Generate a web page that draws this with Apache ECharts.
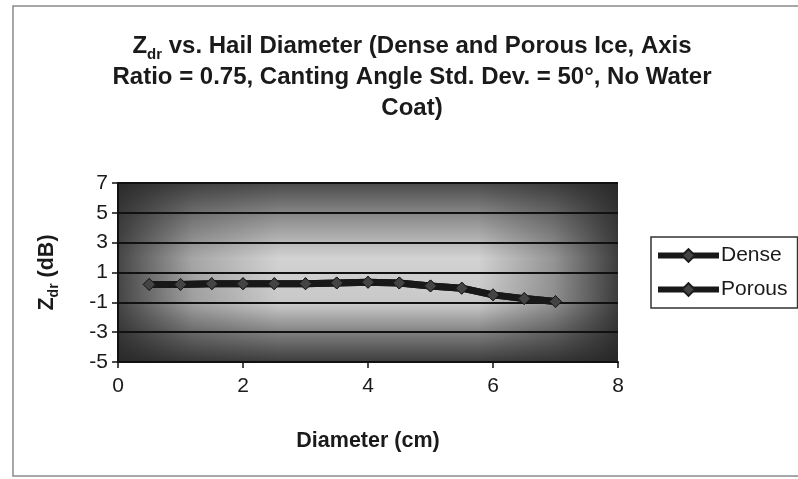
<!DOCTYPE html>
<html>
<head>
<meta charset="utf-8">
<script src="https://cdn.jsdelivr.net/npm/echarts@6/dist/echarts.min.js"></script>
<style>
  html, body { margin: 0; padding: 0; background: #fff; }
  #chart { width: 798px; height: 479px; }
</style>
</head>
<body>
<div id="chart"></div>
<script>
// Hail diameter (cm) and differential reflectivity Zdr (dB)
const diameters = [0.5, 1.0, 1.5, 2.0, 2.5, 3.0, 3.5, 4.0, 4.5, 5.0, 5.5, 6.0, 6.5, 7.0];
const denseZdr  = [0.2, 0.2, 0.25, 0.25, 0.25, 0.25, 0.3, 0.35, 0.3, 0.1, -0.05, -0.5, -0.75, -0.95];
const porousZdr = [0.2, 0.2, 0.25, 0.25, 0.25, 0.25, 0.3, 0.35, 0.3, 0.1, -0.05, -0.5, -0.75, -0.95];
const seriesNames = ['Dense', 'Porous'];
const xTicks = [0, 2, 4, 6, 8];
const yTicks = [-5, -3, -1, 1, 3, 5, 7];

const FONT = '"Liberation Sans", Arial, sans-serif';
const INK = '#1a1a1a';
const chart = echarts.init(document.getElementById('chart'));

const pair = (xs, ys) => xs.map((x, i) => [x, ys[i]]);

const lineSeries = (name, values) => ({
  name,
  type: 'line',
  data: pair(diameters, values),
  symbol: 'diamond',
  symbolSize: 12,
  lineStyle: { color: '#181818', width: 7 },
  itemStyle: { color: '#444', borderColor: '#1c1c1c', borderWidth: 1 },
  z: 5,
  animation: false
});

// rich-text styles for the title (Z with a "dr" subscript)
const titleRich = {
  b: { fontFamily: FONT, fontWeight: 'bold', fontSize: 24, color: INK, lineHeight: 31 },
  s: { fontFamily: FONT, fontWeight: 'bold', fontSize: 15, color: INK, lineHeight: 20, verticalAlign: 'bottom' }
};

chart.setOption({
  backgroundColor: '#fff',
  animation: false,
  title: {
    left: 407,
    textAlign: 'center',
    top: 26,
    padding: 5,
    text: '{b|Z}{s|dr}{b| vs. Hail Diameter (Dense and Porous Ice, Axis}\n' +
          '{b|Ratio = 0.75, Canting Angle Std. Dev. = 50°, No Water}\n' +
          '{b|Coat)}',
    textStyle: { rich: titleRich }
  },
  legend: {
    orient: 'vertical',
    left: 651,
    top: 237,
    padding: [8, 10, 8, 4],
    itemGap: 13,
    itemWidth: 61,
    itemHeight: 16,
    borderColor: '#333',
    borderWidth: 1.5,
    backgroundColor: '#fff',
    data: seriesNames,
    lineStyle: { width: 6, color: '#181818' },
    textStyle: { fontFamily: FONT, fontSize: 21, color: INK, padding: [0, 0, 0, -3] }
  },
  grid: { left: 118, right: 180, top: 183, bottom: 117 },
  xAxis: {
    type: 'value',
    min: xTicks[0],
    max: xTicks[xTicks.length - 1],
    interval: 2,
    name: 'Diameter (cm)',
    nameLocation: 'middle',
    nameGap: 68,
    nameTextStyle: { fontFamily: FONT, fontWeight: 'bold', fontSize: 21.5, color: INK },
    axisLine: { onZero: false, lineStyle: { color: '#111', width: 2 } },
    axisTick: { show: true, length: 6, lineStyle: { color: '#111', width: 1.5 } },
    axisLabel: { fontFamily: FONT, fontSize: 21, color: INK, margin: 14 },
    splitLine: { show: false }
  },
  yAxis: {
    type: 'value',
    min: yTicks[0],
    max: yTicks[yTicks.length - 1],
    interval: 2,
    name: '{b|Z}{s|dr}{b| (dB)}',
    nameLocation: 'middle',
    nameGap: 57,
    nameRotate: 90,
    nameTextStyle: {
      rich: {
        b: { fontFamily: FONT, fontWeight: 'bold', fontSize: 21.5, color: INK, lineHeight: 27 },
        s: { fontFamily: FONT, fontWeight: 'bold', fontSize: 14, color: INK, lineHeight: 18, verticalAlign: 'bottom' }
      }
    },
    axisLine: { show: true, lineStyle: { color: '#111', width: 2 } },
    axisTick: { show: true, length: 6, lineStyle: { color: '#111', width: 1.5 } },
    axisLabel: { fontFamily: FONT, fontSize: 21, color: INK, margin: 10 },
    splitLine: { show: true, lineStyle: { color: '#111', width: 2 } }
  },
  series: [lineSeries(seriesNames[0], denseZdr), lineSeries(seriesNames[1], porousZdr)]
});

// Shaded plot background and outer frame, placed from the grid's own pixel extent
const p0 = chart.convertToPixel({ gridIndex: 0 }, [xTicks[0], yTicks[yTicks.length - 1]]);
const p1 = chart.convertToPixel({ gridIndex: 0 }, [xTicks[xTicks.length - 1], yTicks[0]]);
const plotRect = { x: p0[0], y: p0[1], width: p1[0] - p0[0], height: p1[1] - p0[1] };

chart.setOption({
  graphic: [
    {
      type: 'rect', z: -10, silent: true,
      shape: { x: 13, y: 6, width: 800, height: 470 },
      style: { fill: '#fff', stroke: '#8a8a8a', lineWidth: 1.5 }
    },
    {
      type: 'rect', z: -5, silent: true,
      shape: plotRect,
      style: {
        fill: new echarts.graphic.LinearGradient(0, 0, 0, 1, [
          { offset: 0, color: '#4a4a4a' },
          { offset: 0.18, color: '#8a8a8a' },
          { offset: 0.42, color: '#d2d2d2' },
          { offset: 0.68, color: '#c8c8c8' },
          { offset: 0.85, color: '#7a7a7a' },
          { offset: 1, color: '#3c3c3c' }
        ])
      }
    },
    {
      type: 'rect', z: -4, silent: true,
      shape: plotRect,
      style: {
        fill: new echarts.graphic.LinearGradient(0, 0, 1, 0, [
          { offset: 0, color: 'rgba(35,35,35,0.8)' },
          { offset: 0.15, color: 'rgba(35,35,35,0.25)' },
          { offset: 0.32, color: 'rgba(35,35,35,0)' },
          { offset: 0.72, color: 'rgba(35,35,35,0)' },
          { offset: 0.87, color: 'rgba(35,35,35,0.35)' },
          { offset: 1, color: 'rgba(35,35,35,0.85)' }
        ])
      }
    }
  ]
});
</script>
</body>
</html>
